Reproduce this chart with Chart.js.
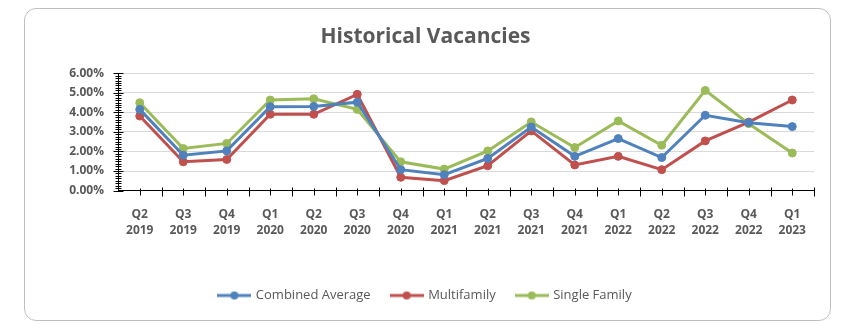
<!DOCTYPE html>
<html>
<head>
<meta charset="utf-8">
<script src="https://cdn.jsdelivr.net/npm/chart.js@4"></script>
<style>
    body { margin: 0; background: #ffffff; }
    #card {
        position: absolute;
        left: 24px;
        top: 8px;
        width: 805px;
        height: 311px;
        border: 1px solid #bfbfbf;
        border-radius: 12px;
        background: #ffffff;
    }
</style>
</head>
<body>
<div id="card"><canvas id="vacancyChart"></canvas></div>
<script>

// ======================================
// Data
// ======================================

const quarters = [
    ["Q2", "2019"], ["Q3", "2019"], ["Q4", "2019"],
    ["Q1", "2020"], ["Q2", "2020"], ["Q3", "2020"], ["Q4", "2020"],
    ["Q1", "2021"], ["Q2", "2021"], ["Q3", "2021"], ["Q4", "2021"],
    ["Q1", "2022"], ["Q2", "2022"], ["Q3", "2022"], ["Q4", "2022"],
    ["Q1", "2023"]
];

const combinedAverage = [4.15, 1.81, 2.03, 4.29, 4.30, 4.52, 1.07, 0.81, 1.64, 3.25, 1.75, 2.66, 1.69, 3.85, 3.47, 3.27];

const multifamily = [3.81, 1.47, 1.59, 3.90, 3.90, 4.92, 0.68, 0.51, 1.27, 3.05, 1.31, 1.75, 1.07, 2.54, 3.50, 4.63];

const singleFamily = [4.49, 2.15, 2.41, 4.63, 4.69, 4.15, 1.47, 1.10, 2.03, 3.51, 2.20, 3.56, 2.32, 5.12, 3.42, 1.92];

const yMax = 6;
const yMinorStep = 0.125;

const textColor = "#595959";
const fontFamily = "'Open Sans', sans-serif";

// ======================================
// Legend marker: line with a dot
// ======================================

function legendMarker(color) {

    const c = document.createElement("canvas");
    c.width = 34;
    c.height = 10;

    const g = c.getContext("2d");
    g.strokeStyle = color;
    g.lineWidth = 3;
    g.beginPath();
    g.moveTo(0, 5);
    g.lineTo(34, 5);
    g.stroke();

    g.fillStyle = color;
    g.beginPath();
    g.arc(17, 5, 4, 0, Math.PI * 2);
    g.fill();

    return c;
}

function makeSeries(label, data, color) {
    return {
        label: label,
        data: data,
        borderColor: color,
        backgroundColor: color,
        borderWidth: 3,
        pointRadius: 4,
        pointHoverRadius: 4,
        pointBorderWidth: 1,
        pointStyle: "circle",
        tension: 0,
        fill: false,
        marker: legendMarker(color)
    };
}

// ======================================
// Crossing tick marks on both axes
// ======================================

const axisTicks = {
    id: "axisTicks",
    afterDatasetsDraw(chart) {
        const xs = chart.scales.x;
        const ys = chart.scales.y;
        const ctx = chart.ctx;
        ctx.save();
        ctx.strokeStyle = "#000000";
        ctx.lineWidth = 1;

        // x axis: boundaries and category centres
        const yAxis = Math.round(xs.top) + 0.5;
        for (let i = 0; i < quarters.length; i++) {
            const xc = Math.round(xs.getPixelForValue(i)) + 0.5;
            ctx.beginPath();
            ctx.moveTo(xc, yAxis - 3);
            ctx.lineTo(xc, yAxis + 4);
            ctx.stroke();

            const xb = Math.round(xs.getPixelForValue(i + 0.5)) + 0.5;
            ctx.beginPath();
            ctx.moveTo(xb, yAxis - 4);
            ctx.lineTo(xb, yAxis + 5);
            ctx.stroke();
        }

        // y axis: major and minor
        const xAxis = Math.round(ys.right) + 0.5;
        const steps = Math.round(yMax / yMinorStep);
        for (let k = 0; k <= steps; k++) {
            const v = k * yMinorStep;
            const major = Math.abs(v - Math.round(v)) < 1e-6;
            const y = Math.round(ys.getPixelForValue(v)) + 0.5;
            const half = major ? 5 : 3;
            ctx.beginPath();
            ctx.moveTo(xAxis - half, y);
            ctx.lineTo(xAxis + half, y);
            ctx.stroke();
        }
        ctx.restore();
    }
};

// ======================================
// Chart
// ======================================

const ctx = document.getElementById("vacancyChart").getContext("2d");

new Chart(ctx, {

    type: "line",

    data: {
        labels: quarters,
        datasets: [
            makeSeries("Combined Average", combinedAverage, "#4f81bd"),
            makeSeries("Multifamily", multifamily, "#c0504d"),
            makeSeries("Single Family", singleFamily, "#9bbb59")
        ]
    },

    plugins: [axisTicks],

    options: {

        responsive: true,
        maintainAspectRatio: false,
        animation: false,

        layout: {
            padding: { left: 12, right: 16, top: 0, bottom: 8 }
        },

        plugins: {

            title: {
                display: true,
                text: "Historical Vacancies",
                color: textColor,
                font: { family: fontFamily, size: 21, weight: "bold" },
                padding: { top: 15, bottom: 24 }
            },

            legend: {
                position: "bottom",
                labels: {
                    color: textColor,
                    font: { family: fontFamily, size: 13 },
                    usePointStyle: true,
                    pointStyleWidth: 30,
                    padding: 21,
                    generateLabels(chart) {
                        return chart.data.datasets.map((ds, i) => ({
                            text: ds.label,
                            fontColor: textColor,
                            pointStyle: ds.marker,
                            strokeStyle: ds.borderColor,
                            fillStyle: ds.backgroundColor,
                            lineWidth: 0,
                            datasetIndex: i
                        }));
                    }
                }
            },

            tooltip: { enabled: false }
        },

        scales: {

            x: {
                offset: true,
                grid: {
                    display: false,
                    drawTicks: false
                },
                border: { color: "#000000", width: 1 },
                ticks: {
                    color: textColor,
                    font: { family: fontFamily, size: 12, weight: "bold", lineHeight: 1.35 },
                    maxRotation: 0,
                    autoSkip: false,
                    padding: 16
                },
                afterFit(scale) {
                    scale.height += 13;
                }
            },

            y: {
                min: 0,
                max: yMax,
                grid: {
                    color: (c) => (c.tick && c.tick.value > 0 ? "#d9d9d9" : "rgba(0,0,0,0)"),
                    drawTicks: false,
                    lineWidth: 1
                },
                border: { color: "#000000", width: 1 },
                ticks: {
                    stepSize: 1,
                    autoSkip: false,
                    color: textColor,
                    font: { family: fontFamily, size: 12, weight: "bold" },
                    padding: 14,
                    callback: (v) => v.toFixed(2) + "%"
                },
                afterFit(scale) {
                    scale.width = 81;
                }
            }
        }
    }
});

</script>
</body>
</html>
